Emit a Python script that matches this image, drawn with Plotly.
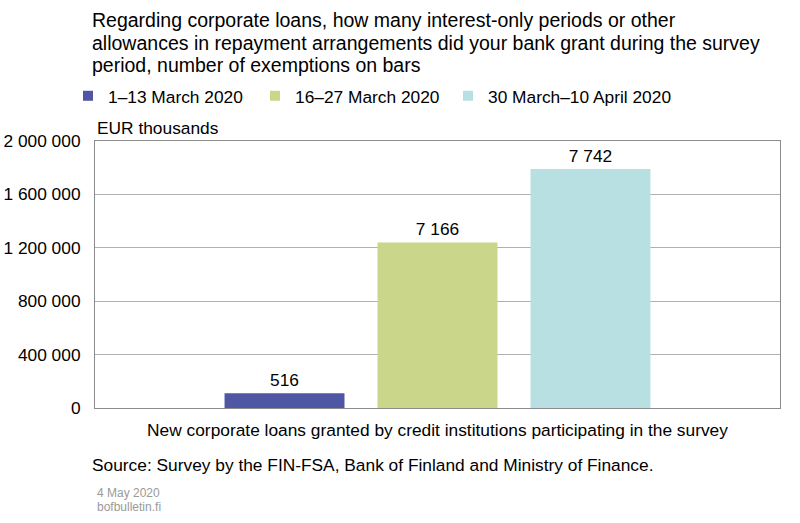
import plotly.graph_objects as go

category = ["New corporate loans granted by credit institutions participating in the survey"]
series_names = ["1–13 March 2020", "16–27 March 2020", "30 March–10 April 2020"]
values_eur_thousands = [110000, 1240000, 1790000]
exemptions = ["516", "7 166", "7 742"]
colors = ["#4f56a4", "#cad78a", "#b8dfe2"]
y_tickvals = [0, 400000, 800000, 1200000, 1600000, 2000000]
y_ticktext = ["0", "400 000", "800 000", "1 200 000", "1 600 000", "2 000 000"]
title_lines = [
    "Regarding corporate loans, how many interest-only periods or other",
    "allowances in repayment arrangements did your bank grant during the survey",
    "period, number of exemptions on bars",
]

FONT = "Liberation Sans, Arial, sans-serif"
FS = 17.33
TS = 19.5

legend_ids = ["legend", "legend2", "legend3"]
legend_x_px = [68, 255, 448]

fig = go.Figure()
for name, v, t, c, lg in zip(series_names, values_eur_thousands, exemptions, colors, legend_ids):
    fig.add_trace(go.Bar(
        x=category, y=[v], name=name, text=[t], textposition="outside",
        textfont=dict(size=FS, color="#000000", family=FONT),
        marker=dict(color=c, line=dict(width=0)), cliponaxis=False,
        showlegend=False, legendgroup=name,
    ))
    # legend entry with a small square symbol
    fig.add_trace(go.Scatter(
        x=[None], y=[None], mode="markers", name=name, legendgroup=name,
        marker=dict(symbol="square", size=10, color=c), showlegend=True, legend=lg,
    ))

PLOT_TOP, PLOT_BOTTOM = 141, 408
def py(px):
    return (PLOT_BOTTOM - px) / (PLOT_BOTTOM - PLOT_TOP)

annotations = [
    dict(text=line, xref="paper", yref="paper", x=(90 - 95) / 685, y=py(yc),
         xanchor="left", yanchor="middle", showarrow=False,
         font=dict(size=TS, family=FONT, color="#000000"))
    for line, yc in zip(title_lines, [20, 42.5, 65])
]
annotations += [
    dict(text="EUR thousands", xref="paper", yref="paper", x=0.0, y=py(128),
         xanchor="left", yanchor="middle", showarrow=False, font=dict(size=FS)),
    dict(text="Source: Survey by the FIN-FSA, Bank of Finland and Ministry of Finance.",
         xref="paper", yref="paper", x=-0.0073, y=py(465),
         xanchor="left", yanchor="middle", showarrow=False, font=dict(size=FS)),
    dict(text="4 May 2020", xref="paper", yref="paper",
         x=0.0, y=py(493), xanchor="left", yanchor="middle",
         showarrow=False, font=dict(size=12, color="#9a9a9a")),
    dict(text="bofbulletin.fi", xref="paper", yref="paper",
         x=0.0, y=py(507), xanchor="left", yanchor="middle",
         showarrow=False, font=dict(size=12, color="#9a9a9a")),
]

legend_common = dict(orientation="h", xref="container", yref="container",
                     y=1 - 96 / 523, xanchor="left", yanchor="middle",
                     font=dict(size=FS), itemwidth=30, bgcolor="rgba(0,0,0,0)")

fig.update_layout(
    width=800, height=523,
    paper_bgcolor="white", plot_bgcolor="white",
    margin=dict(l=95, r=20, t=PLOT_TOP, b=523 - PLOT_BOTTOM, autoexpand=False),
    font=dict(family=FONT, size=FS, color="#000000"),
    barmode="group", bargap=0.33, bargroupgap=0.216,
    showlegend=True,
    legend=dict(legend_common, x=legend_x_px[0] / 800),
    legend2=dict(legend_common, x=legend_x_px[1] / 800),
    legend3=dict(legend_common, x=legend_x_px[2] / 800),
    xaxis=dict(showline=True, linecolor="#8c8c8c", linewidth=1, mirror=True,
               ticks="", tickfont=dict(size=FS), range=[-0.5, 0.5],
               ticklabelstandoff=6, fixedrange=True),
    yaxis=dict(range=[0, 2000000], tickvals=y_tickvals, ticktext=y_ticktext,
               showgrid=True, gridcolor="#b0b0b0", gridwidth=1,
               showline=True, linecolor="#8c8c8c", linewidth=1, mirror=True,
               ticks="", ticklen=0, tickfont=dict(size=FS), zeroline=False,
               ticklabelstandoff=10, fixedrange=True),
    annotations=annotations,
)

fig.write_html("out.html", config={"displayModeBar": False},
               post_script="document.body.style.margin='0';document.body.style.overflow='hidden';")
